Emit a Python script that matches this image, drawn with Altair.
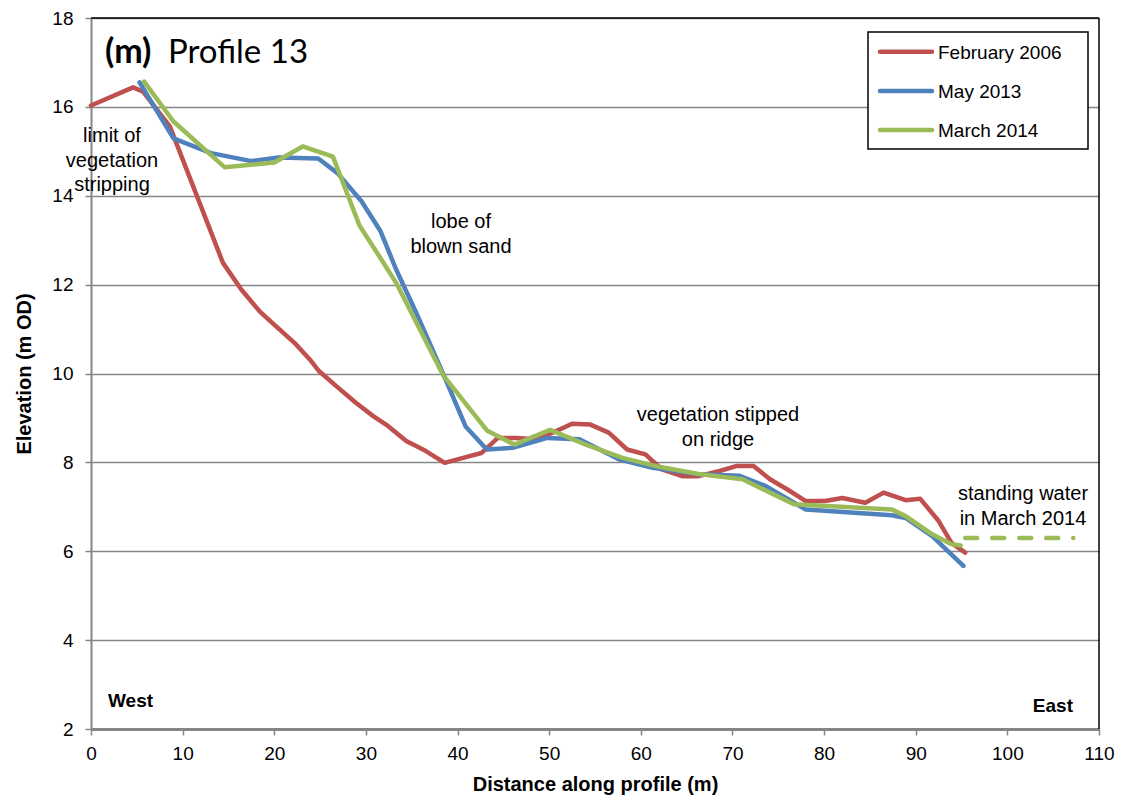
import altair as alt
import pandas as pd

series_names = ["February 2006", "May 2013", "March 2014"]
series_colors = ["#C0504D", "#4F81BD", "#9BBB59"]

feb2006_x = [0, 4.6, 5.7, 8.6, 14.4, 16.4, 18.4, 20.2, 22.2, 23.9, 24.9, 26.8, 28.9, 30.8, 32.4,
             34.4, 36.5, 38.6, 40.6, 42.6, 44.4, 46.4, 48.4, 50.4, 52.5, 54.5, 56.5, 58.5, 60.5,
             62.3, 64.5, 66.3, 68.5, 70.5, 72.3, 74.1, 76.0, 78.0, 80.1, 82.0, 84.5, 86.5, 88.9,
             90.5, 92.5, 93.9, 95.4]
feb2006_y = [16.03, 16.44, 16.34, 15.56, 12.49, 11.89, 11.40, 11.06, 10.69, 10.31, 10.05, 9.71, 9.34,
             9.04, 8.82, 8.48, 8.26, 7.99, 8.10, 8.21, 8.55, 8.55, 8.52, 8.67, 8.87, 8.85, 8.67,
             8.29, 8.18, 7.84, 7.69, 7.69, 7.80, 7.92, 7.92, 7.62, 7.39, 7.13, 7.13, 7.20, 7.09,
             7.32, 7.15, 7.18, 6.68, 6.19, 5.97]

may2013_x = [5.3, 9.0, 13.1, 17.5, 20.5, 24.8, 26.9, 29.5, 31.6, 33.3, 35.5, 38.4, 40.9, 43.2,
             46.0, 49.8, 53.3, 57.6, 61.3, 66.3, 70.7, 73.6, 78.0, 87.4, 88.9, 91.8, 95.2]
may2013_y = [16.55, 15.29, 14.96, 14.78, 14.86, 14.84, 14.51, 13.88, 13.20, 12.34, 11.36, 10.01,
             8.80, 8.29, 8.33, 8.55, 8.52, 8.07, 7.88, 7.73, 7.70, 7.47, 6.94, 6.81, 6.75, 6.34, 5.67]

mar2014_x = [5.8, 9.0, 14.6, 20.0, 23.1, 26.4, 29.3, 31.7, 33.3, 38.4, 43.2, 46.2, 50.1, 54.0,
             58.0, 62.0, 66.3, 71.1, 76.7, 87.4, 88.9, 91.8, 93.9, 94.9]
mar2014_y = [16.57, 15.67, 14.64, 14.75, 15.11, 14.88, 13.33, 12.56, 12.04, 9.97, 8.72, 8.40, 8.73,
             8.40, 8.10, 7.90, 7.74, 7.62, 7.06, 6.94, 6.79, 6.38, 6.16, 6.13]

water_x = [95.4, 107.2]
water_y = [6.3, 6.3]

x_ticks = list(range(0, 111, 10))
y_ticks = list(range(2, 19, 2))

rows = []
for name, xs, ys in zip(series_names, [feb2006_x, may2013_x, mar2014_x],
                        [feb2006_y, may2013_y, mar2014_y]):
    for i, (a, b) in enumerate(zip(xs, ys)):
        rows.append({"series": name, "x": a, "y": b, "i": i})
df = pd.DataFrame(rows)
water_df = pd.DataFrame({"x": water_x, "y": water_y})

W, H = 1008, 711
GRAY = "#868686"

xscale = alt.Scale(domain=[0, 110], nice=False, zero=False)
yscale = alt.Scale(domain=[2, 18], nice=False, zero=False)
color_scale = alt.Scale(domain=series_names, range=series_colors)

x_axis = alt.Axis(values=x_ticks, title="Distance along profile (m)", grid=False,
                  domainColor=GRAY, domainWidth=3, tickColor=GRAY, tickWidth=1.5, tickSize=6,
                  labelPadding=9, titlePadding=11, labelFlush=False)
y_axis = alt.Axis(values=y_ticks, title="Elevation (m OD)", grid=True, gridColor=GRAY,
                  gridWidth=1.5, domainColor=GRAY, domainWidth=2, tickColor=GRAY,
                  tickWidth=1.5, tickSize=6, labelPadding=12, titlePadding=17, labelFlush=False)

lines = alt.Chart(df).mark_line(strokeWidth=4.5, strokeJoin="round", strokeCap="round").encode(
    x=alt.X("x:Q", scale=xscale, axis=x_axis),
    y=alt.Y("y:Q", scale=yscale, axis=y_axis),
    color=alt.Color("series:N", scale=color_scale, legend=None),
    order="i:Q",
)

water = alt.Chart(water_df).mark_line(strokeWidth=4.5, strokeDash=[12, 15], strokeCap="round",
                                      color=series_colors[2]).encode(
    x=alt.X("x:Q", scale=xscale),
    y=alt.Y("y:Q", scale=yscale),
)

one = alt.Data(values=[{}])

border_top = alt.Chart(one).mark_rule(color="black", strokeWidth=1.5).encode(
    x=alt.value(0), x2=alt.value(W), y=alt.value(0))
border_right = alt.Chart(one).mark_rule(color="black", strokeWidth=1.5).encode(
    x=alt.value(W), y=alt.value(0), y2=alt.value(H))


def label(text, x, y, size=20, weight="normal", align="center", font="Liberation Sans",
          baseline="alphabetic"):
    return alt.Chart(one).mark_text(text=text, font=font, fontSize=size, fontWeight=weight,
                                    align=align, baseline=baseline, lineHeight=24.5,
                                    color="black").encode(x=alt.value(x), y=alt.value(y))


annotations = [
    label(["limit of", "vegetation", "stripping"], 21, 124),
    label(["lobe of", "blown sand"], 370, 210),
    label(["vegetation stipped", "on ridge"], 627, 403),
    label(["standing water", "in March 2014"], 932, 482),
    label("West", 17, 689, size=19, weight="bold", align="left"),
    label("East", 982, 694, size=19, weight="bold", align="right"),
    label("(m)", 14, 45, size=34, weight="bold", align="left", font="Lato"),
    label("Profile 13", 77, 45, size=33, align="left", font="Lato"),
]

legend_box = alt.Chart(one).mark_rect(fill="white", stroke="black", strokeWidth=1.5).encode(
    x=alt.value(777), x2=alt.value(997), y=alt.value(14), y2=alt.value(131))
legend_layers = [legend_box]
for k, (name, col) in enumerate(zip(series_names, series_colors)):
    yy = 33.7 + k * 39.2
    legend_layers.append(alt.Chart(one).mark_rule(color=col, strokeWidth=4.5, strokeCap="round").encode(
        x=alt.value(789), x2=alt.value(841), y=alt.value(yy)))
    legend_layers.append(label(name, 847, yy + 1, size=19, align="left", baseline="middle"))

chart = alt.layer(lines, water, border_top, border_right, *annotations, *legend_layers).properties(
    width=W, height=H,
    padding={"left": 83, "top": 10, "right": 21, "bottom": 70},
    autosize=alt.AutoSizeParams(type="none"),
).configure_view(stroke=None).configure_axis(
    labelFont="Liberation Sans", labelFontSize=19, labelColor="black",
    titleFont="Liberation Sans", titleFontSize=20, titleFontWeight="bold", titleColor="black",
)

chart.save("out.html", embed_options={"renderer": "svg", "actions": False})
